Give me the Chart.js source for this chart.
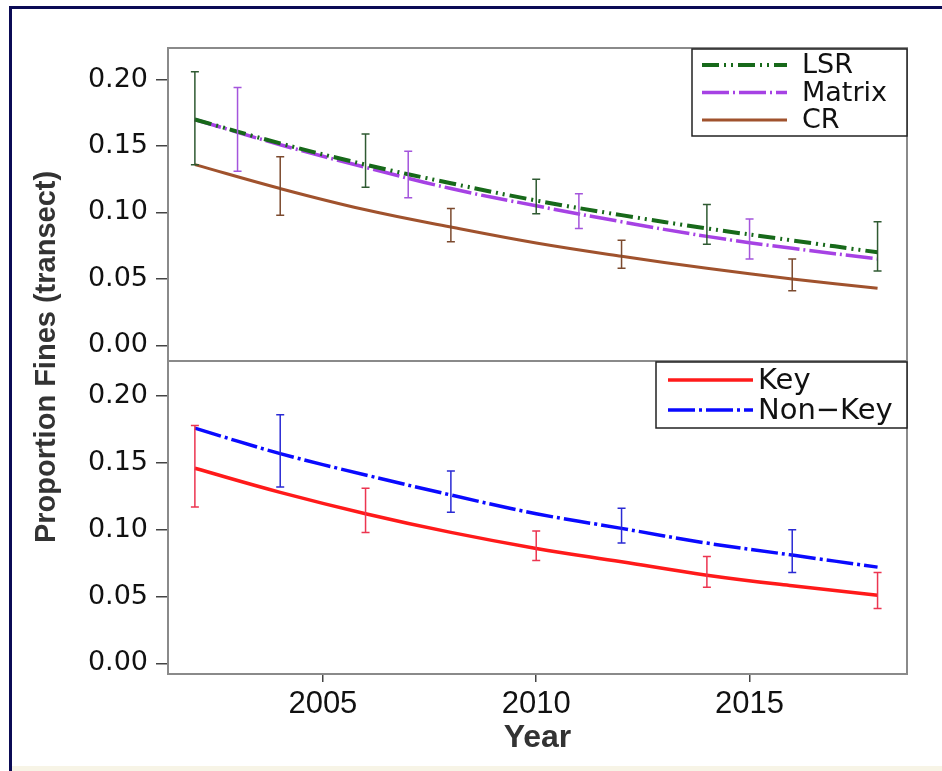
<!DOCTYPE html>
<html lang="en">
  <head>
    <meta charset="UTF-8" />
    <title>Proportion Fines by Year</title>
    <style>
      body {
        margin: 0;
        background: #fff;
      }

      .wrap {
        position: relative;
        width: 942px;
        height: 771px;
        overflow: hidden;
        background: #fff;
      }

      #finesChart {
        position: absolute;
        left: 0;
        top: 0;
      }

      .frame {
        position: absolute;
        left: 9px;
        top: 6px;
        right: -10px;
        bottom: -10px;
        border-left: 3px solid #0b0b55;
        border-top: 3px solid #0b0b55;
        pointer-events: none;
      }

      .strip {
        position: absolute;
        left: 12px;
        right: 0;
        bottom: 0;
        height: 5px;
        background: #f7f4e6;
      }
    </style>
    <script src="https://cdn.jsdelivr.net/npm/chart.js"></script>
  </head>
  <body>
    <div class="wrap">
      <canvas id="finesChart" width="942" height="771"></canvas>
      <div class="frame"></div>
      <div class="strip"></div>
    </div>

    <script>
      // fitted curves
      const years = [2002, 2004, 2006, 2008, 2010, 2012, 2014, 2016, 2018];
      const lsrFit = [0.170, 0.152, 0.136, 0.122, 0.109, 0.098, 0.088, 0.079, 0.070];
      const matrixFit = [0.170, 0.151, 0.134, 0.118, 0.105, 0.093, 0.082, 0.073, 0.065];
      const crFit = [0.136, 0.118, 0.102, 0.089, 0.077, 0.067, 0.058, 0.050, 0.043];
      const keyFit = [0.146, 0.128, 0.112, 0.098, 0.086, 0.076, 0.066, 0.058, 0.051];
      const nonKeyFit = [0.176, 0.157, 0.141, 0.126, 0.112, 0.101, 0.090, 0.081, 0.072];

      // error bars
      const lsrBarYears = [2002, 2006, 2010, 2014, 2018];
      const lsrBarLow = [0.136, 0.119, 0.099, 0.076, 0.056];
      const lsrBarHigh = [0.206, 0.159, 0.125, 0.106, 0.093];
      const matrixBarYears = [2003, 2007, 2011, 2015];
      const matrixBarLow = [0.131, 0.111, 0.088, 0.065];
      const matrixBarHigh = [0.194, 0.146, 0.114, 0.095];
      const crBarYears = [2004, 2008, 2012, 2016];
      const crBarLow = [0.098, 0.078, 0.058, 0.041];
      const crBarHigh = [0.142, 0.103, 0.079, 0.065];
      const keyBarYears = [2002, 2006, 2010, 2014, 2018];
      const keyBarLow = [0.117, 0.098, 0.077, 0.057, 0.041];
      const keyBarHigh = [0.178, 0.131, 0.099, 0.080, 0.068];
      const nonKeyBarYears = [2004, 2008, 2012, 2016];
      const nonKeyBarLow = [0.132, 0.113, 0.090, 0.068];
      const nonKeyBarHigh = [0.186, 0.144, 0.116, 0.100];

      const xTicks = [2005, 2010, 2015];
      const yTicks = [0, 0.05, 0.1, 0.15, 0.2];
      const yTitle = "Proportion Fines (transect)";
      const xTitle = "Year";

      function points(values) {
        return years.map((yr, i) => ({ x: yr, y: values[i] }));
      }

      const errorBarPlugin = {
        id: "errorBars",
        afterDatasetsDraw(chart) {
          const ctx = chart.ctx;
          const xs = chart.scales.x;
          chart.data.datasets.forEach((ds) => {
            const eb = ds.errorBars;
            if (!eb) return;
            const ys = chart.scales[ds.yAxisID];
            ctx.save();
            ctx.strokeStyle = eb.color;
            ctx.lineWidth = 1.5;
            eb.years.forEach((yr, i) => {
              const px = xs.getPixelForValue(yr);
              const top = ys.getPixelForValue(eb.high[i]);
              const bot = ys.getPixelForValue(eb.low[i]);
              ctx.beginPath();
              ctx.moveTo(px, top);
              ctx.lineTo(px, bot);
              ctx.moveTo(px - 4, top);
              ctx.lineTo(px + 4, top);
              ctx.moveTo(px - 4, bot);
              ctx.lineTo(px + 4, bot);
              ctx.stroke();
            });
            ctx.restore();
          });
        },
      };

      const legendSpec = {
        yTop: { width: 215, height: 87, firstRow: 16, rowGap: 27.5, lineFrom: 10, lineTo: 95, textX: 110, font: '27px "DejaVu Sans"' },
        yBot: { width: 251, height: 66, firstRow: 18, rowGap: 30, lineFrom: 12, lineTo: 97, textX: 102, font: '29px "DejaVu Sans"' },
      };

      const panelPlugin = {
        id: "panels",
        afterDraw(chart) {
          const { ctx, chartArea } = chart;
          ctx.save();
          ctx.strokeStyle = "#8a8a8a";
          ctx.lineWidth = 2;
          ["yTop", "yBot"].forEach((id) => {
            const s = chart.scales[id];
            ctx.strokeRect(chartArea.left, s.top, chartArea.right - chartArea.left, s.bottom - s.top);
          });

          // legends, one per panel
          Object.keys(legendSpec).forEach((id) => {
            const spec = legendSpec[id];
            const s = chart.scales[id];
            const left = chartArea.right - spec.width;
            const top = s.top + 1;
            ctx.fillStyle = "#fff";
            ctx.fillRect(left, top, spec.width, spec.height);
            ctx.strokeStyle = "#222";
            ctx.lineWidth = 1.5;
            ctx.setLineDash([]);
            ctx.strokeRect(left, top, spec.width, spec.height);
            const entries = chart.data.datasets.filter((d) => d.yAxisID === id);
            entries.forEach((d, i) => {
              const y = top + spec.firstRow + i * spec.rowGap;
              ctx.strokeStyle = d.borderColor;
              ctx.lineWidth = d.borderWidth;
              ctx.setLineDash(d.borderDash || []);
              ctx.beginPath();
              ctx.moveTo(left + spec.lineFrom, y);
              ctx.lineTo(left + spec.lineTo, y);
              ctx.stroke();
              ctx.setLineDash([]);
              ctx.fillStyle = "#111";
              ctx.font = spec.font;
              ctx.textAlign = "left";
              ctx.textBaseline = "middle";
              ctx.fillText(d.label, left + spec.textX, y + 1);
            });
          });

          // shared y title
          ctx.translate(47, (chartArea.top + chartArea.bottom) / 2 - 4);
          ctx.rotate(-Math.PI / 2);
          ctx.font = 'bold 29px "Liberation Sans"';
          ctx.fillStyle = "#333";
          ctx.textAlign = "center";
          ctx.textBaseline = "middle";
          ctx.fillText(yTitle, 0, 0);
          ctx.restore();
        },
      };

      function yScale(min, max) {
        return {
          type: "linear",
          position: "left",
          stack: "panels",
          stackWeight: 1,
          bounds: "data",
          min: min,
          max: max,
          afterBuildTicks: (scale) => {
            scale.ticks = yTicks.map((v) => ({ value: v }));
          },
          afterFit: (scale) => {
            scale.width = 168;
          },
          ticks: {
            callback: (v) => Number(v).toFixed(2),
            font: { family: "DejaVu Sans", size: 27 },
            color: "#111",
            padding: 8,
          },
          grid: { drawOnChartArea: false, tickLength: 12, color: "#444", lineWidth: 1.5 },
          border: { display: true, color: "#8a8a8a", width: 2 },
        };
      }

      new Chart(document.getElementById("finesChart").getContext("2d"), {
        type: "line",
        data: {
          datasets: [
            {
              label: "LSR",
              data: points(lsrFit),
              yAxisID: "yTop",
              borderColor: "#17691a",
              borderWidth: 4,
              borderDash: [17, 5, 2, 5, 2, 5],
              errorBars: { years: lsrBarYears, low: lsrBarLow, high: lsrBarHigh, color: "#2f5a32" },
            },
            {
              label: "Matrix",
              data: points(matrixFit),
              yAxisID: "yTop",
              borderColor: "#a642e4",
              borderWidth: 3.5,
              borderDash: [27, 4, 2, 4],
              errorBars: { years: matrixBarYears, low: matrixBarLow, high: matrixBarHigh, color: "#a455dc" },
            },
            {
              label: "CR",
              data: points(crFit),
              yAxisID: "yTop",
              borderColor: "#a0522d",
              borderWidth: 3,
              errorBars: { years: crBarYears, low: crBarLow, high: crBarHigh, color: "#7c4a2e" },
            },
            {
              label: "Key",
              data: points(keyFit),
              yAxisID: "yBot",
              borderColor: "#ff1a1a",
              borderWidth: 3.5,
              errorBars: { years: keyBarYears, low: keyBarLow, high: keyBarHigh, color: "#ec3550" },
            },
            {
              label: "Non\u2212Key",
              data: points(nonKeyFit),
              yAxisID: "yBot",
              borderColor: "#0a0aff",
              borderWidth: 3.5,
              borderDash: [27, 4, 3, 4],
              errorBars: { years: nonKeyBarYears, low: nonKeyBarLow, high: nonKeyBarHigh, color: "#2a2ad4" },
            },
          ],
        },
        options: {
          responsive: false,
          animation: false,
          layout: { padding: { left: 0, top: 48, right: 35, bottom: 14 } },
          elements: {
            point: { radius: 0 },
            line: { tension: 0.4, fill: false },
          },
          plugins: {
            legend: { display: false },
            tooltip: { enabled: false },
          },
          scales: {
            x: {
              type: "linear",
              position: "bottom",
              bounds: "data",
              min: 2001.37,
              max: 2018.69,
              afterBuildTicks: (scale) => {
                scale.ticks = xTicks.map((v) => ({ value: v }));
              },
              afterFit: (scale) => {
                scale.height = 83;
              },
              ticks: {
                callback: (v) => String(v),
                font: { family: "Liberation Sans", size: 31 },
                color: "#111",
                padding: 4,
                maxRotation: 0,
              },
              grid: { drawOnChartArea: false, tickLength: 8, color: "#444", lineWidth: 1.5 },
              border: { display: true, color: "#8a8a8a", width: 2 },
              title: {
                display: true,
                text: xTitle,
                font: { family: "Liberation Sans", size: 32, weight: "bold" },
                color: "#333",
                padding: { top: 0, bottom: 0 },
              },
            },
            // left-hand stacked axes are laid out in reverse, so the lower panel comes first
            yBot: yScale(-0.008, 0.2263),
            yTop: yScale(-0.0118, 0.2238),
          },
        },
        plugins: [errorBarPlugin, panelPlugin],
      });
    </script>
  </body>
</html>
